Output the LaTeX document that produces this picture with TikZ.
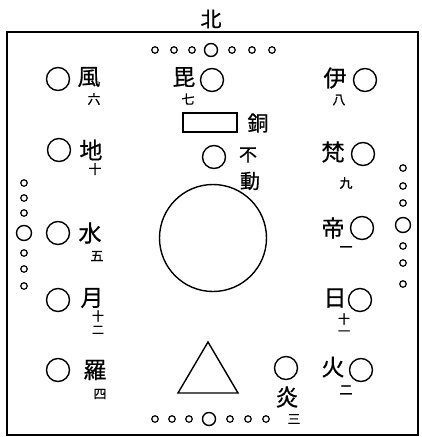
\documentclass[tikz,border=0pt]{standalone}
\usepackage{fontspec}
\newfontfamily\cjk{Noto Sans CJK JP}[FakeBold=0.6]
\usetikzlibrary{positioning}

\tikzset{
  star/.style={draw, line width=1.4pt, circle, minimum size=23pt, inner sep=0pt},
  dotsmall/.style={draw, line width=1.2pt, circle, minimum size=6.5pt, inner sep=0pt},
  dotbig/.style={draw, line width=1.4pt, circle, minimum size=13pt, inner sep=0pt},
  dotside/.style={draw, line width=1.4pt, circle, minimum size=15pt, inner sep=0pt},
  glyph/.style={font=\cjk\fontsize{23}{23}\selectfont, inner sep=0pt},
  numeral/.style={font=\cjk\fontsize{13}{13}\selectfont, inner sep=0pt},
  stacked/.style={font=\cjk\fontsize{12}{12}\selectfont, inner sep=0pt}
}

\begin{document}
\begin{tikzpicture}[x=1pt, y=-1pt]

      \useasboundingbox (0,0) rectangle (421,437);

      % Outer frame and north mark
      \draw[line width=1.4pt] (7,32) rectangle (418,435);
      \node[glyph, font=\cjk\fontsize{21}{21}\selectfont] (north) at (211,19) {北};

      % Rows of small rings on the four sides
      \foreach \x/\s [count=\i] in {155/dotsmall,174/dotsmall,192/dotsmall,211/dotbig,232/dotsmall,252/dotsmall,272/dotsmall}
      \node[\s] (top\i) at (\x,50) {};
      \foreach \x/\s [count=\i] in {155/dotsmall,172/dotsmall,189/dotsmall,209/dotbig,230/dotsmall,248/dotsmall,266/dotsmall}
      \node[\s] (bottom\i) at (\x,419) {};
      \foreach \y/\s [count=\i] in {183/dotsmall,198/dotsmall,213/dotsmall,233/dotside,253/dotsmall,269/dotsmall,286/dotsmall}
      \node[\s] (left\i) at (24,\y) {};
      \foreach \y/\s [count=\i] in {168/dotsmall,186/dotsmall,203/dotsmall,225/dotside,246/dotsmall,263/dotsmall,284/dotsmall}
      \node[\s] (right\i) at (403,\y) {};

      % Central altar: mirror, seat, circle and triangle
      \draw[line width=1.4pt] (183,113) rectangle (237,132);
      \node[glyph, font=\cjk\fontsize{21}{21}\selectfont] (copper) at (258,123) {銅};
      \node[star] (fudo) at (214,157) {};
      \node[glyph, font=\cjk\fontsize{18}{18}\selectfont] (fudoA) at (248,155) {不};
      \node[glyph, font=\cjk\fontsize{20}{20}\selectfont] (fudoB) at (250,181) {動};
      \node[draw, line width=1.4pt, circle, minimum size=107pt, inner sep=0pt] (disc) at (213,238) {};
      \draw[line width=1.4pt] (208,342) -- (178,393) -- (238,393) -- cycle;

      % Left column
      \node[star] (wind) at (58,79) {};
      \node[glyph] at (89,77) {風};
      \node[numeral] at (94,99) {六};
      \node[star] (earth) at (59,150) {};
      \node[glyph] at (91,150) {地};
      \node[numeral] at (95,169) {十};
      \node[star] (water) at (58,233) {};
      \node[glyph] at (90,233) {水};
      \node[numeral] at (97,256) {五};
      \node[star] (moon) at (58,300) {};
      \node[glyph] at (92,298) {月};
      \node[stacked] at (98,316) {十};
      \node[stacked] at (98,330) {二};
      \node[star] (rahu) at (58,370) {};
      \node[glyph] at (95,370) {羅};
      \node[numeral] at (100,394) {四};

      % Top centre
      \node[star] (bishamon) at (212,80) {};
      \node[glyph] at (184,77) {毘};
      \node[numeral] at (188,99) {七};

      % Right column
      \node[star] (isana) at (365,80) {};
      \node[glyph] at (335,78) {伊};
      \node[numeral] at (339,100) {八};
      \node[star] (brahma) at (363,154) {};
      \node[glyph] at (333,152) {梵};
      \node[numeral] at (346,183) {九};
      \node[star] (indra) at (362,228) {};
      \node[glyph] at (333,228) {帝};
      \node[numeral] at (346,249) {一};
      \node[star] (sun) at (360,300) {};
      \node[glyph] at (335,298) {日};
      \node[stacked] at (344,319) {十};
      \node[stacked] at (344,333) {一};
      \node[star] (fire) at (361,370) {};
      \node[glyph] at (333,367) {火};
      \node[numeral] at (346,390) {二};

      % Bottom right
      \node[star] (flame) at (286,368) {};
      \node[glyph] at (287,397) {炎};
      \node[numeral] at (294,419) {三};

    \end{tikzpicture}
\end{document}
